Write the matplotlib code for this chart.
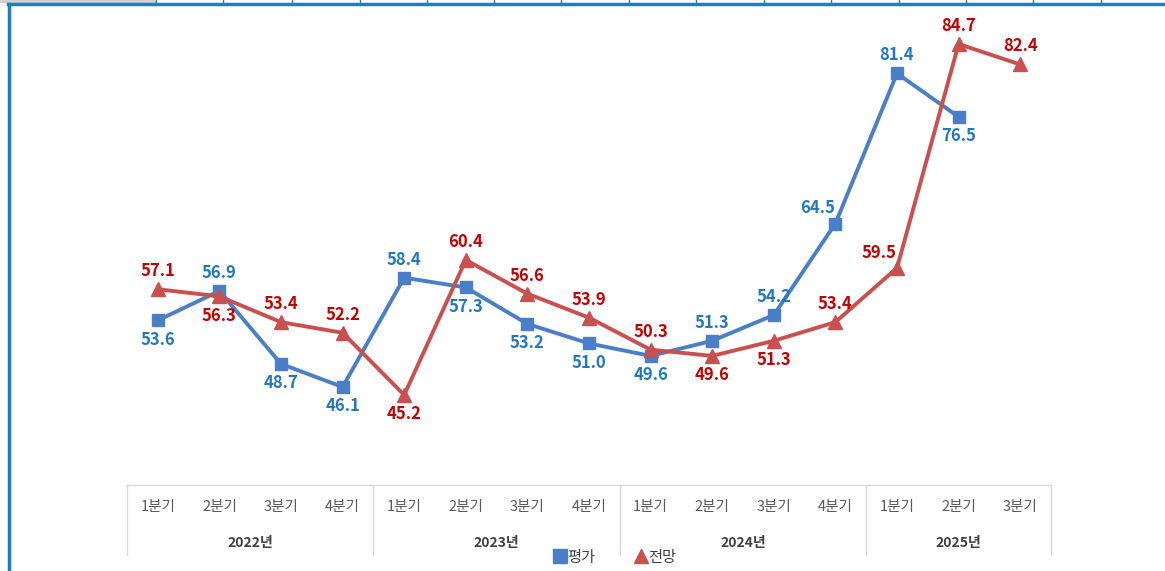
import matplotlib
matplotlib.use("Agg")
import matplotlib.pyplot as plt
import matplotlib.transforms as mtransforms
from matplotlib.lines import Line2D
from matplotlib.patches import Rectangle

plt.rcParams["font.family"] = ["Noto Sans CJK KR", "DejaVu Sans"]

# data
years = ["2022년", "2023년", "2024년", "2025년"]
quarters_per_year = [4, 4, 4, 3]
quarter_labels = ["1분기", "2분기", "3분기", "4분기",
                  "1분기", "2분기", "3분기", "4분기",
                  "1분기", "2분기", "3분기", "4분기",
                  "1분기", "2분기", "3분기"]
evaluation = [53.6, 56.9, 48.7, 46.1, 58.4, 57.3, 53.2, 51.0,
              49.6, 51.3, 54.2, 64.5, 81.4, 76.5, None]
outlook = [57.1, 56.3, 53.4, 52.2, 45.2, 60.4, 56.6, 53.9,
           50.3, 49.6, 51.3, 53.4, 59.5, 84.7, 82.4]

# where each data label sits relative to its point
eval_pos = ["below", "above", "below", "below", "above", "below", "below", "below",
            "below", "above", "above", "left", "above", "below", None]
outlook_pos = ["above", "below", "above", "above", "below", "above", "above", "above",
               "above", "below", "below", "above", "left", "above", "above"]

BLUE_LINE = "#4A7EC6"
BLUE_TEXT = "#2477BD"
RED_LINE = "#C9504E"
RED_TEXT = "#C00000"
GRID_GRAY = "#D9D9D9"

W, H = 1165, 571
fig = plt.figure(figsize=(W / 100, H / 100), dpi=100)

# plot area in pixels: x 127..1051, y 10..485
ax = fig.add_axes([127 / W, (H - 485) / H, 924 / W, 475 / H])
ax.set_xlim(-0.5, 14.5)
ax.set_ylim(35.07, 88.53)
ax.axis("off")

x = list(range(len(quarter_labels)))
ev_x = [i for i, v in zip(x, evaluation) if v is not None]
ev_y = [v for v in evaluation if v is not None]

ax.plot(ev_x, ev_y, color=BLUE_LINE, lw=2.8, marker="s", markersize=8.5,
        zorder=3, solid_joinstyle="round")
ax.plot(x, outlook, color=RED_LINE, lw=2.8, marker="^", markersize=9.5,
        zorder=4, solid_joinstyle="round")

offsets = {"above": (0, 13), "below": (0, -14), "left": (-13, 11)}


def label_points(xs, ys, positions, color):
    for xi, yi, pos in zip(xs, ys, positions):
        if yi is None or pos is None:
            continue
        ax.annotate(f"{yi:.1f}", (xi, yi), xytext=offsets[pos], textcoords="offset points",
                    ha="center", va="center", color=color, fontsize=12,
                    fontweight="bold", zorder=5)


label_points(x, evaluation, eval_pos, BLUE_TEXT)
label_points(x, outlook, outlook_pos, RED_TEXT)

# category table under the plot
trans = mtransforms.blended_transform_factory(ax.transData, ax.transAxes)
ax.plot([-0.5, 14.5], [0, 0], color=GRID_GRAY, lw=1, transform=trans, clip_on=False)
bounds = [-0.5]
for n in quarters_per_year:
    bounds.append(bounds[-1] + n)
for b in bounds:
    ax.plot([b, b], [0, -70 / 475], color=GRID_GRAY, lw=1, transform=trans, clip_on=False)

for xi, q in zip(x, quarter_labels):
    ax.text(xi, -22 / 475, q, transform=trans, ha="center", va="center",
            fontsize=10.5, color="#595959", fontweight="medium")
for i, yr in enumerate(years):
    ax.text((bounds[i] + bounds[i + 1]) / 2, -58 / 475, yr, transform=trans,
            ha="center", va="center", fontsize=10, color="#404040", fontweight="bold")

# legend
handles = [
    Line2D([], [], color=BLUE_LINE, marker="s", markersize=9.5, lw=0),
    Line2D([], [], color=RED_LINE, marker="^", markersize=10, lw=0),
]
fig.legend(handles, ["평가", "전망"], loc="center", bbox_to_anchor=(0.528, 0.024),
           ncol=2, frameon=False, fontsize=11, handlelength=0.8, handletextpad=0.05,
           columnspacing=2.6, labelcolor="#404040")

# spreadsheet frame around the chart
ov = fig.add_axes([0, 0, 1, 1], zorder=-1)
ov.set_xlim(0, W)
ov.set_ylim(H, 0)
ov.axis("off")
ov.add_patch(Rectangle((0, 0), 156, 3, color="#D0D0D0", lw=0))
ov.plot([8, W], [4, 4], color="#1B7FC0", lw=2.5)
ov.plot([9, 9], [4, H], color="#1B7FC0", lw=2.5)
for tx in [156, 223, 292, 360, 427, 494, 561, 629, 696, 764, 831, 899, 966, 1033, 1101]:
    ov.plot([tx, tx], [0, 4], color="#1B7FC0", lw=1)

fig.savefig("out.png", dpi=100)
